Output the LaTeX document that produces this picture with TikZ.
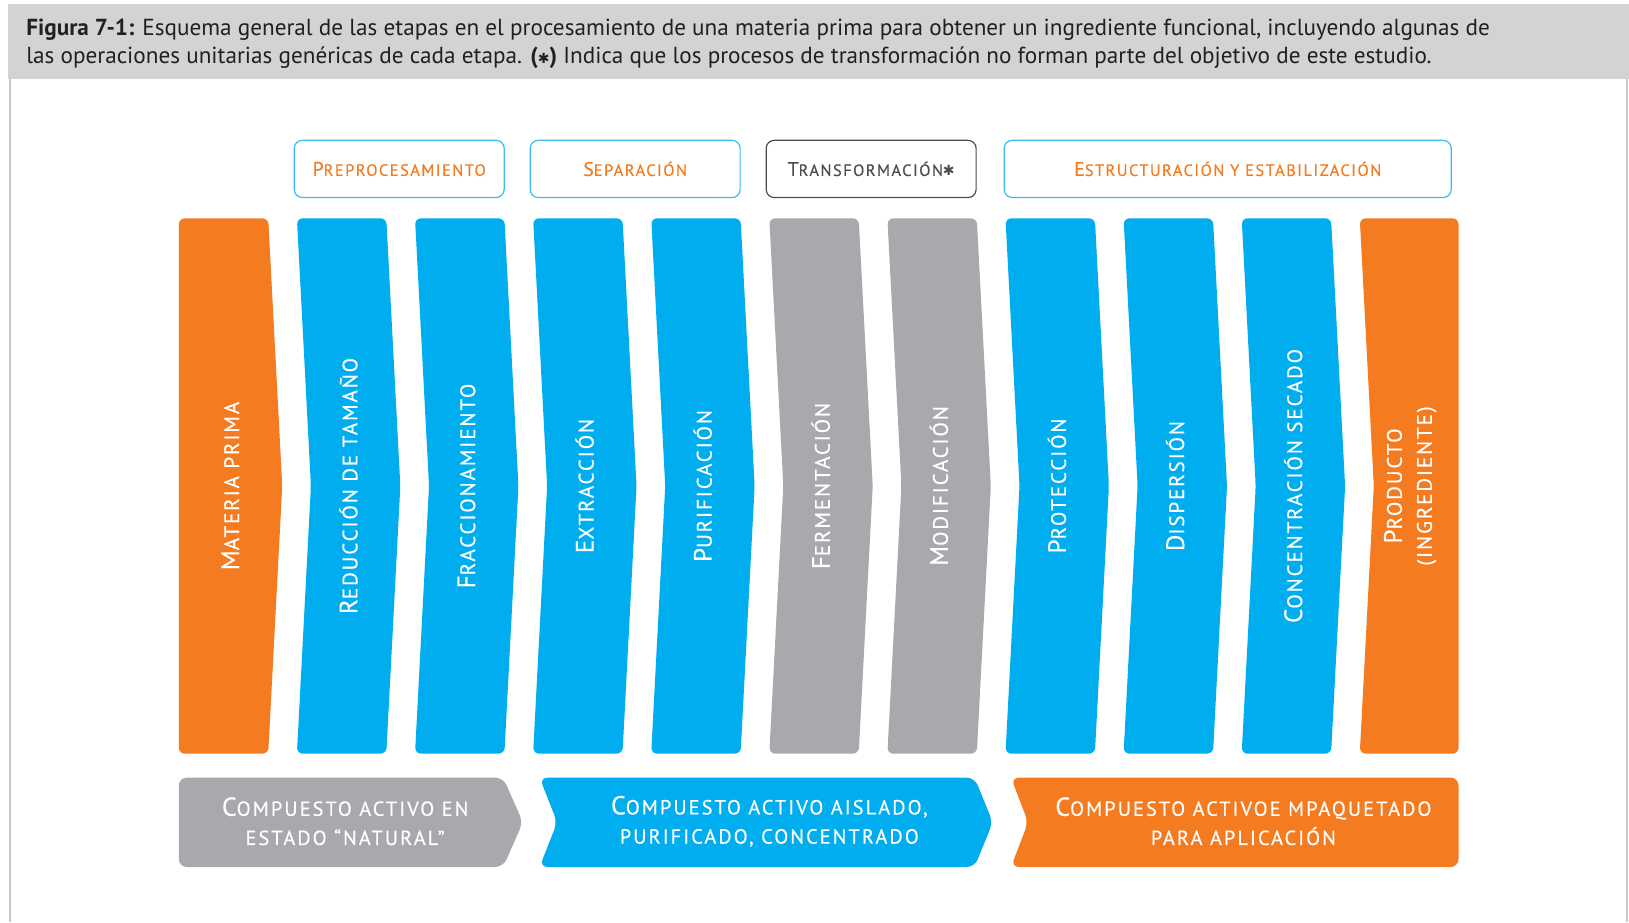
\documentclass[tikz,border=0pt]{standalone}
\usepackage{fontspec}
\setmainfont{PT Sans}
\newfontfamily\colfont[LetterSpace=9, FakeBold=0.3]{PT Sans}
\newfontfamily\boxfont[LetterSpace=9, FakeBold=0.3]{PT Sans}
\newfontfamily\botfont[LetterSpace=10, FakeBold=0.3]{PT Sans}
\newfontfamily\djv{DejaVu Sans}
\definecolor{corange}{HTML}{F47B20}
\definecolor{cblue}{HTML}{00AEEF}
\definecolor{cgray}{HTML}{A7A9AC}
\definecolor{hgray}{HTML}{D1D3D4}
\definecolor{fgray}{HTML}{C8C8C8}
\definecolor{boxblue}{HTML}{3DBDEF}
\definecolor{darkt}{HTML}{231F20}
\definecolor{tgray}{HTML}{4D4D4F}
\newcommand\fsc[2]{{\fontsize{\scB}{\scB}\selectfont#1}{\fontsize{\scS}{\scS}\selectfont#2}}
\newcommand\hast{{\djv\fontsize{7}{7}\selectfont ✱}}
\newcommand\chevcol[5]{% left x, colour, notch, point, width
  \fill[#2, rounded corners=3pt] (#1,210) -- (#1+#5,210) -- (#1+#5+#4,467.5) -- (#1+#5,725) -- (#1,725) -- (#1+#3,467.5) -- cycle;}
\tikzset{
  colt/.style={text=white, rotate=90, align=center, inner sep=0pt,
    font=\colfont\def\scB{12.6}\def\scS{10.5}\fontsize{10.5}{15}\selectfont},
  boxt/.style={rounded corners=4pt, line width=0.6pt, minimum height=28.6pt, inner sep=0pt,
    font=\boxfont\def\scB{9.9}\def\scS{8.2}\fontsize{8.2}{10}\selectfont},
  bott/.style={text=white, align=center, inner sep=0pt,
    font=\botfont\def\scB{13}\def\scS{10.2}\fontsize{10.2}{14.6}\selectfont},
  headt/.style={anchor=base west, inner sep=0pt, text=darkt, font=\fontsize{11.6}{14}\selectfont}
}
\begin{document}
\begin{tikzpicture}[x=0.52pt, y=-0.52pt]
\useasboundingbox (0,0) rectangle (1567,887);
\fill[white] (0,0) rectangle (1567,887);
% frame
\fill[hgray] (8,4) rectangle (1567,76);
\draw[fgray, line width=1pt] (9.6,76) -- (9.6,887);
\draw[fgray, line width=1pt] (1565,76) -- (1565,887);
\node[headt] (cap1) at (25,34.5) {\textbf{Figura 7-1:} Esquema general de las etapas en el procesamiento de una materia prima para obtener un ingrediente funcional, incluyendo algunas de};
\node[headt] (cap2) at (25,61.5) {las operaciones unitarias genéricas de cada etapa. \textbf{(\hast)} Indica que los procesos de transformación no forman parte del objetivo de este estudio.};
% top boxes
\node[boxt, draw=boxblue, text=corange, minimum width=105pt] (pre) at (384,162.5) {\fsc{P}{REPROCESAMIENTO}};
\node[boxt, draw=boxblue, text=corange, minimum width=105pt] (sep) at (611,162.5) {\fsc{S}{EPARACIÓN}};
\node[boxt, draw=tgray, text=tgray, minimum width=105pt] (tra) at (838,162.5) {\fsc{T}{RANSFORMACIÓN\hast}};
\node[boxt, draw=boxblue, text=corange, minimum width=223.6pt] (est) at (1181,162.5) {\fsc{E}{STRUCTURACIÓN Y ESTABILIZACIÓN}};
% columns
\chevcol{172}{corange}{0}{13.5}{86}
\chevcol{285.6}{cblue}{13.5}{13.5}{86}
\chevcol{399.2}{cblue}{13.5}{13.5}{86}
\chevcol{512.8}{cblue}{13.5}{13.5}{86}
\chevcol{626.4}{cblue}{13.5}{13.5}{86}
\chevcol{740}{cgray}{13.5}{13.5}{86}
\chevcol{853.6}{cgray}{13.5}{13.5}{86}
\chevcol{967.2}{cblue}{13.5}{13.5}{86}
\chevcol{1080.8}{cblue}{13.5}{13.5}{86}
\chevcol{1194.4}{cblue}{13.5}{13.5}{86}
\chevcol{1308}{corange}{13.5}{0}{95}
\node[colt] (c1) at (221.5,467.5) {\fsc{M}{ATERIA PRIMA}};
\node[colt] (c2) at (335.1,467.5) {\fsc{R}{EDUCCIÓN DE TAMAÑO}};
\node[colt] (c3) at (448.7,467.5) {\fsc{F}{RACCIONAMIENTO}};
\node[colt] (c4) at (562.3,467.5) {\fsc{E}{XTRACCIÓN}};
\node[colt] (c5) at (675.9,467.5) {\fsc{P}{URIFICACIÓN}};
\node[colt] (c6) at (789.5,467.5) {\fsc{F}{ERMENTACIÓN}};
\node[colt] (c7) at (903.1,467.5) {\fsc{M}{ODIFICACIÓN}};
\node[colt] (c8) at (1016.7,467.5) {\fsc{P}{ROTECCIÓN}};
\node[colt] (c9) at (1130.3,467.5) {\fsc{D}{ISPERSIÓN}};
\node[colt] (c10) at (1243.9,467.5) {\fsc{C}{ONCENTRACIÓN SECADO}};
\node[colt] (c11) at (1356.5,467.5) {\fsc{P}{RODUCTO}\\\fsc{}{(INGREDIENTE)}};
% bottom arrows
\fill[cgray, rounded corners=4pt] (172,748) -- (484,748) -- (503,791) -- (484,834) -- (172,834) -- cycle;
\fill[cblue, rounded corners=4pt] (519,748) -- (937.5,748) -- (955,791) -- (937.5,834) -- (519,834) -- (536,791) -- cycle;
\fill[corange, rounded corners=4pt] (972.5,748) -- (1403,748) -- (1403,834) -- (972.5,834) -- (989,791) -- cycle;
\node[bott] (b1) at (332,790) {\fsc{C}{OMPUESTO ACTIVO EN}\\\fsc{}{ESTADO “NATURAL”}};
\node[bott] (b2) at (740,790) {\fsc{C}{OMPUESTO ACTIVO AISLADO,}\\\fsc{}{PURIFICADO, CONCENTRADO}};
\node[bott] (b3) at (1196,790) {\fsc{C}{OMPUESTO ACTIVOE MPAQUETADO}\\\fsc{}{PARA APLICACIÓN}};
\end{tikzpicture}
\end{document}
